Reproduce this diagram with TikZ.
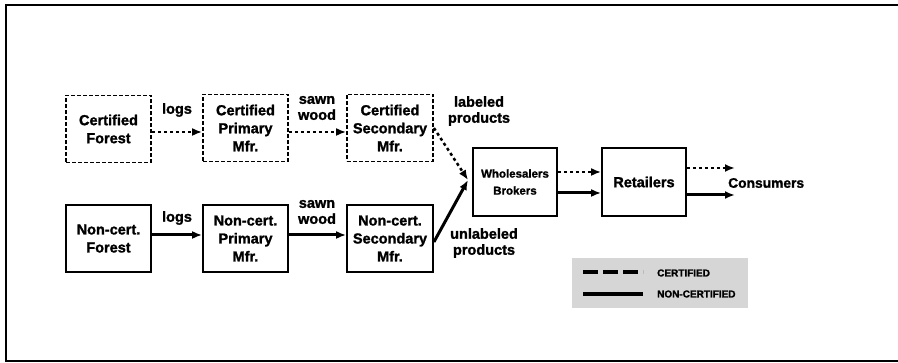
\documentclass[tikz,border=0pt]{standalone}
\usepackage{fontspec}
\setmainfont{Liberation Sans}[BoldFeatures={FakeBold=1.5}]
\usetikzlibrary{arrows.meta}
\begin{document}
\begin{tikzpicture}[x=1pt,y=-1pt,
  box/.style={draw,line width=1.8pt,minimum width=85pt,minimum height=67pt,inner sep=1pt,align=center,font=\fontsize{14.5}{18}\selectfont\bfseries},
  certbox/.style={box,dash pattern=on 4pt off 2pt},
  lbl/.style={align=center,inner sep=0pt,font=\fontsize{14.5}{16}\selectfont\bfseries},
  tip/.style={-{Latex[length=10pt,width=8pt]}},
  certarrow/.style={tip,line width=2.5pt,dash pattern=on 3pt off 3pt},
  noncertarrow/.style={tip,line width=3pt},
  legtext/.style={anchor=west,inner sep=0pt,font=\fontsize{10}{12}\selectfont\bfseries}
]
\useasboundingbox (0,0) rectangle (898,363);
\draw[line width=2.5pt] (898,5) -- (6,5) -- (6,361) -- (898,361);

% boxes
\node[certbox] (cf) at (108.5,129) {Certified\\Forest};
\node[certbox] (cp) at (245.5,128) {Certified\\Primary\\Mfr.};
\node[certbox,minimum width=86pt] (cs) at (390,128) {Certified\\Secondary\\Mfr.};
\node[box] (nf) at (108.5,238.5) {Non-cert.\\Forest};
\node[box] (np) at (245.5,238.5) {Non-cert.\\Primary\\Mfr.};
\node[box,minimum width=86pt] (ns) at (390,238.5) {Non-cert.\\Secondary\\Mfr.};
\node[box,minimum width=84pt,minimum height=68pt,font=\fontsize{11.5}{17}\selectfont\bfseries] (wb) at (515,182) {Wholesalers\\Brokers};
\node[box,minimum width=84pt,minimum height=68pt] (rt) at (644,182) {Retailers};

\coordinate (m) at (468,180);
\coordinate (c1) at (735,168);
\coordinate (c2) at (735,195);

% labels
\node[lbl] (l1) at (177,110) {logs};
\node[lbl] (l2) at (177,218) {logs};
\node[lbl] (s1) at (317,108) {sawn\\wood};
\node[lbl] (s2) at (317,212) {sawn\\wood};
\node[lbl] (lp) at (479,111) {labeled\\products};
\node[lbl] (up) at (484,243) {unlabeled\\products};
\node[lbl,anchor=west,font=\fontsize{13.8}{16}\selectfont\bfseries] (cons) at (728,183) {Consumers};

% certified flow
\draw[certarrow] ([yshift=-3pt]cf.east) -- ([yshift=-4pt]cp.west);
\draw[certarrow] ([yshift=-4pt]cp.east) -- ([yshift=-4pt]cs.west);
\draw[certarrow] ([yshift=0pt]cs.east) -- (m);
\draw[certarrow] ([yshift=10pt]wb.east) -- ([yshift=10pt]rt.west);
\draw[certarrow] ([yshift=14pt]rt.east) -- (c1);

% non-certified flow
\draw[noncertarrow] ([yshift=3.5pt]nf.east) -- ([yshift=3.5pt]np.west);
\draw[noncertarrow] ([yshift=3.5pt]np.east) -- ([yshift=3.5pt]ns.west);
\draw[noncertarrow] ([yshift=-3.5pt]ns.east) -- (m);
\draw[noncertarrow] ([yshift=-11pt]wb.east) -- ([yshift=-11pt]rt.west);
\draw[noncertarrow] ([yshift=-13pt]rt.east) -- (c2);

% legend
\fill[black!16] (572,258) rectangle (748,308);
\coordinate (d1) at (583,272);
\coordinate (d2) at (643,272);
\coordinate (e1) at (583,294);
\coordinate (e2) at (643,294);
\draw[line width=3.5pt,dash pattern=on 15pt off 5pt] (d1) -- (d2);
\draw[line width=3.5pt] (e1) -- (e2);
\node[legtext] (lc) at (657,273) {CERTIFIED};
\node[legtext] (ln) at (657,294) {NON-CERTIFIED};
\end{tikzpicture}
\end{document}
